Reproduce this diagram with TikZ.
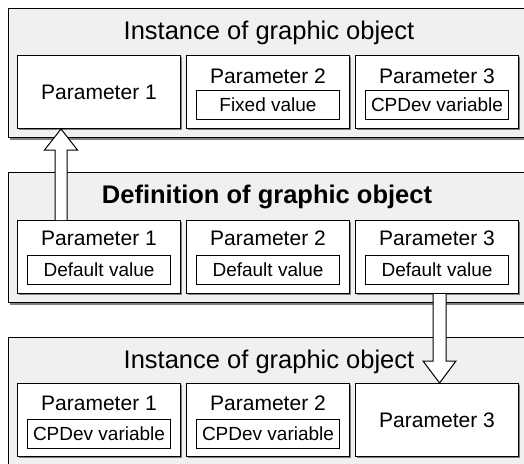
\documentclass[tikz,border=0pt]{standalone}
\usepackage{fontspec}
\setmainfont{Liberation Sans}
\usetikzlibrary{calc,shadows}
\definecolor{panelgray}{gray}{0.94}
\definecolor{shadegray}{gray}{0.5}
\newcommand{\ttlfont}{\fontsize{25.5}{28}\selectfont}
\newcommand{\parfont}{\fontsize{21}{24}\selectfont}
\newcommand{\valfont}{\fontsize{19}{22}\selectfont}

\begin{document}
\begin{tikzpicture}[x=1pt,y=-1pt,
	panel/.style={draw, line width=1.1pt, fill=panelgray, inner sep=0pt,
		minimum width=540pt, minimum height=#1, anchor=north west,
		drop shadow={shadow xshift=1.2pt, shadow yshift=-2pt, fill=shadegray, opacity=1}},
	pbox/.style={draw, line width=1pt, fill=white, inner sep=0pt, font=\parfont,
		minimum width=163pt, minimum height=73pt, anchor=north west,
		drop shadow={shadow xshift=1pt, shadow yshift=-1pt, fill=shadegray, opacity=1}},
	plabel/.style={inner sep=0pt, anchor=base, font=\parfont},
	vbox/.style={draw, line width=1pt, fill=white, inner sep=0pt, font=\valfont,
		minimum width=143pt, minimum height=29pt,
		drop shadow={shadow xshift=0.8pt, shadow yshift=-0.8pt, fill=shadegray, opacity=1}},
	ttl/.style={inner sep=0pt, anchor=base, font=\ttlfont},
	fat/.style={draw, fill=white, line width=1pt, line join=miter}]
	\clip (0,0) rectangle (524,463);

	% instance on top
	\node[panel=129pt] (inst) at (8,8) {};
	\node[ttl] (insttl) at (269,39) {Instance of graphic object};
	\node[pbox] (ip1) at (17,55) {Parameter 1};
	\node[pbox] (ip2) at (186,55) {};
	\node[plabel] at ($(ip2.north)+(0,28)$) {Parameter 2};
	\node[vbox] (iv2) at ($(ip2.north)+(0,49.5)$) {Fixed value};
	\node[pbox] (ip3) at (355,55) {};
	\node[plabel] at ($(ip3.north)+(0,28)$) {Parameter 3};
	\node[vbox] (iv3) at ($(ip3.north)+(0,49.5)$) {CPDev variable};

	% definition
	\node[panel=130pt] (def) at (8,172) {};
	\node[ttl, font=\ttlfont\bfseries] (defttl) at (267,203) {Definition of graphic object};
	\foreach \i/\x in {1/17, 2/186, 3/355} {
		\node[pbox] (dp\i) at (\x,220) {};
		\node[plabel] at ($(dp\i.north)+(0,25)$) {Parameter \i};
		\node[vbox] (dv\i) at ($(dp\i.north)+(0,49.5)$) {Default value};
	}

	% instance at the bottom
	\node[panel=140pt] (inst2) at (8,337) {};
	\node[ttl] (inst2ttl) at (269,368) {Instance of graphic object};
	\foreach \i/\x in {1/17, 2/186} {
		\node[pbox] (bp\i) at (\x,383) {};
		\node[plabel] at ($(bp\i.north)+(0,27)$) {Parameter \i};
		\node[vbox] (bv\i) at ($(bp\i.north)+(0,50.5)$) {CPDev variable};
	}
	\node[pbox] (bp3) at (355,383) {Parameter 3};

	% arrows
	\coordinate (ufrom) at ([xshift=44pt]dp1.north west);
	\coordinate (uto) at (ufrom |- ip1.south);
	\draw[fat] ($(ufrom)+(-6,0)$) -- ($(uto)+(-6,21)$) -- ($(uto)+(-16.5,21)$) -- (uto)
		-- ($(uto)+(16.5,21)$) -- ($(uto)+(6,21)$) -- ($(ufrom)+(6,0)$);
	\coordinate (dfrom) at ([xshift=84.5pt]dp3.south west);
	\coordinate (dto) at (dfrom |- bp3.north);
	\draw[fat] ($(dfrom)+(-6.5,0)$) -- ($(dto)+(-6.5,-22)$) -- ($(dto)+(-16.5,-22)$) -- (dto)
		-- ($(dto)+(16.5,-22)$) -- ($(dto)+(6.5,-22)$) -- ($(dfrom)+(6.5,0)$);
\end{tikzpicture}
\end{document}
